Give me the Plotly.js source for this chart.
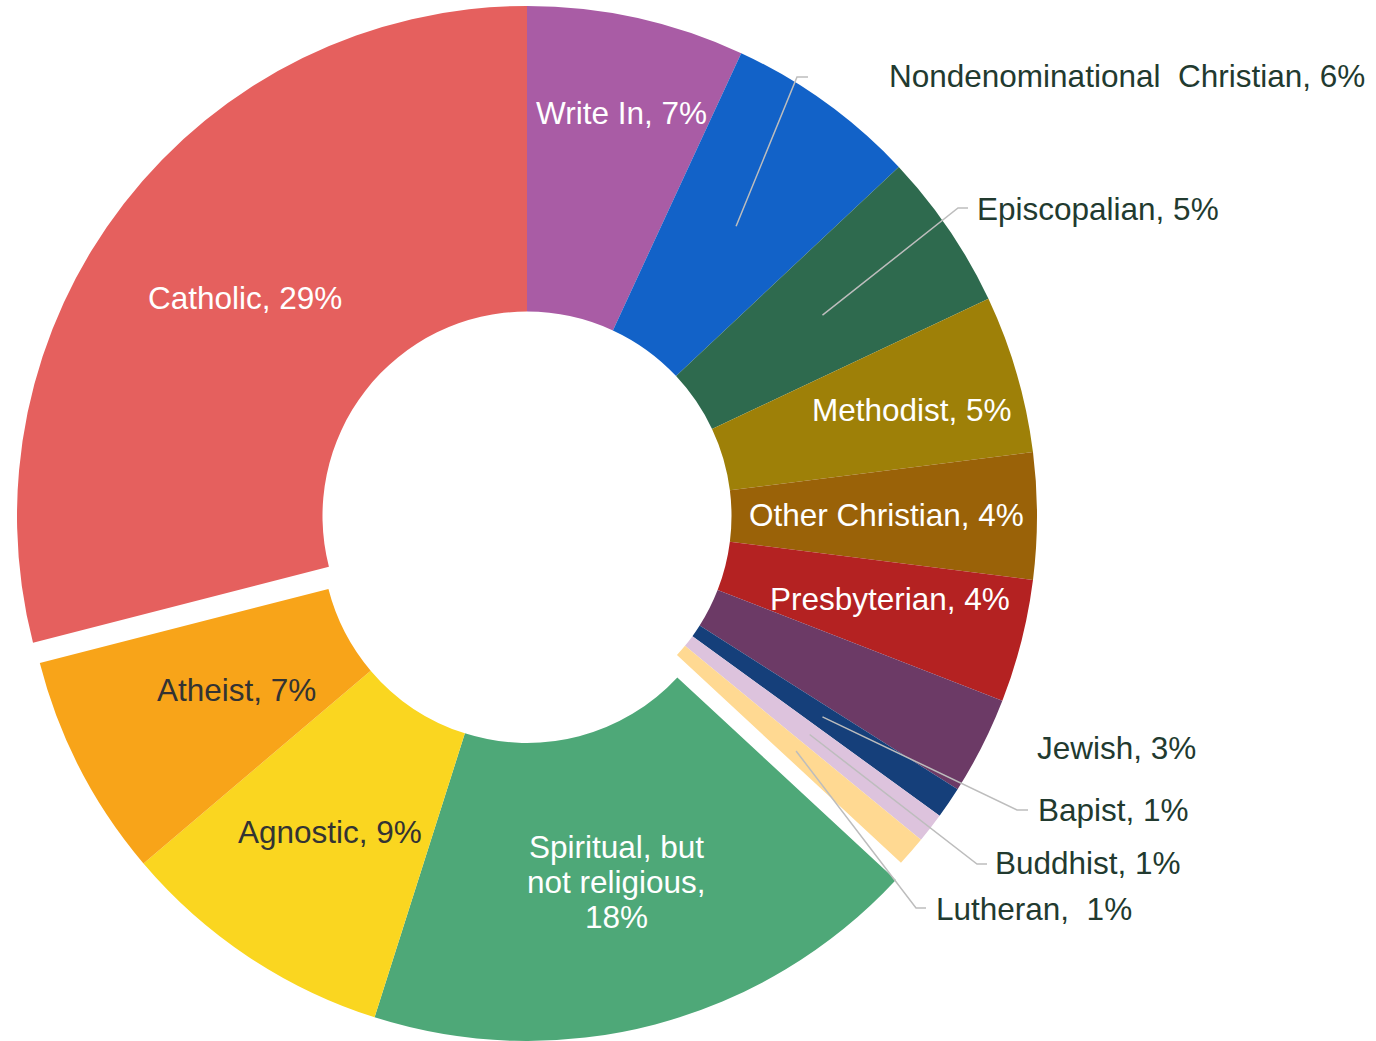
<!DOCTYPE html>
<html>
<head>
<meta charset="utf-8">
<script src="https://cdn.plot.ly/plotly-3.0.1.min.js"></script>
<style>
  html, body { margin: 0; padding: 0; background: #ffffff; overflow: hidden; }
  #chart { width: 1376px; height: 1041px; }
</style>
</head>
<body>
<div id="chart"></div>
<script>
// ---------------- data ----------------
const categories = ["Write In", "Nondenominational Christian", "Episcopalian", "Methodist",
  "Other Christian", "Presbyterian", "Jewish", "Bapist", "Buddhist", "Lutheran",
  "Spiritual, but not religious", "Agnostic", "Atheist", "Catholic"];
const shares = [6.9, 6.1, 5.0, 5.0, 4.0, 3.9, 3.1, 1.0, 0.95, 0.95, 18.0, 8.9, 7.2, 29.0];
const percentLabels = ["7%", "6%", "5%", "5%", "4%", "4%", "3%", "1%", "1%", "1%", "18%", "9%", "7%", "29%"];
const labelTexts = ["Write In, 7%", "Nondenominational\u00a0 Christian, 6%", "Episcopalian, 5%",
  "Methodist, 5%", "Other Christian, 4%", "Presbyterian, 4%", "Jewish, 3%", "Bapist, 1%",
  "Buddhist, 1%", "Lutheran,\u00a0 1%", "Spiritual, but<br>not religious,<br>18%",
  "Agnostic, 9%", "Atheist, 7%", "Catholic, 29%"];
const sliceColors = ["#A95CA5", "#1262C8", "#2E6A4E", "#9E8008", "#9A6208", "#B42222",
  "#6C3A66", "#153F7A", "#DDC3DD", "#FFD992", "#4EA878", "#FAD620", "#F8A419", "#E5605E"];
const explodedGroup = ["Spiritual, but not religious", "Agnostic", "Atheist"];
const leaderCategories = ["Nondenominational Christian", "Episcopalian", "Bapist", "Buddhist", "Lutheran"];

// ---------------- layout / styling ----------------
const W = 1376, H = 1041;
const CX = 527, CY = 516, R = 510, HOLE_R = 204.5;
const GROUP_DY = 22, R2 = 503, HOLE_R2 = 205;
const FONT = "Liberation Sans, Arial, Helvetica, sans-serif";
const FS = 31.5;
const LINE_GAP = 35;
const OUT_COLOR = "#223A2F";
const LIGHT_TEXT = "#FFFFFF";
const DARK_TEXT = "#333333";
const LEADER_COLOR = "#BDBDBD";
const TRANSPARENT = "rgba(0,0,0,0)";

const px = x => x / W;
const py = y => 1 - y / H;

// label placement (pixel positions, anchors)
const labelPlacement = {
  "Write In": {x: 621, y: 113, xa: "center", c: LIGHT_TEXT},
  "Nondenominational Christian": {x: 887, y: 76, xa: "left", c: OUT_COLOR},
  "Episcopalian": {x: 975, y: 209, xa: "left", c: OUT_COLOR},
  "Methodist": {x: 912, y: 410, xa: "center", c: LIGHT_TEXT},
  "Other Christian": {x: 886, y: 515, xa: "center", c: LIGHT_TEXT},
  "Presbyterian": {x: 890, y: 599, xa: "center", c: LIGHT_TEXT},
  "Jewish": {x: 1035, y: 748, xa: "left", c: OUT_COLOR},
  "Bapist": {x: 1036, y: 810, xa: "left", c: OUT_COLOR},
  "Buddhist": {x: 993, y: 863, xa: "left", c: OUT_COLOR},
  "Lutheran": {x: 934, y: 909, xa: "left", c: OUT_COLOR},
  "Spiritual, but not religious": {x: 616, y: 882, xa: "center", c: LIGHT_TEXT},
  "Agnostic": {x: 330, y: 832, xa: "center", c: DARK_TEXT},
  "Atheist": {x: 236, y: 690, xa: "center", c: DARK_TEXT},
  "Catholic": {x: 245, y: 298, xa: "center", c: LIGHT_TEXT}
};
// leader elbows / ends (pixel)
const leaderPath = {
  "Nondenominational Christian": [[797, 77], [808, 77]],
  "Episcopalian": [[958, 208], [968, 208]],
  "Bapist": [[1017, 810], [1028, 810]],
  "Buddhist": [[977, 864], [987, 864]],
  "Lutheran": [[916, 908], [926, 908]]
};

// ---------------- traces ----------------
const baseColors = categories.map((c, i) => explodedGroup.includes(c) ? TRANSPARENT : sliceColors[i]);
const groupColors = categories.map((c, i) => explodedGroup.includes(c) ? sliceColors[i] : TRANSPARENT);

const common = {
  type: "pie",
  labels: categories,
  values: shares,
  sort: false,
  direction: "clockwise",
  rotation: 0,
  textinfo: "none",
  hoverinfo: "label+percent",
  showlegend: false
};

const traceMain = Object.assign({}, common, {
  name: "main",
  hole: HOLE_R / R,
  marker: {colors: baseColors, line: {width: 0}},
  domain: {x: [px(CX - R), px(CX + R)], y: [py(CY + R), py(CY - R)]}
});
const traceGroup = Object.assign({}, common, {
  name: "group",
  hole: HOLE_R2 / R2,
  marker: {colors: groupColors, line: {width: 0}},
  domain: {x: [px(CX - R2), px(CX + R2)], y: [Math.max(0, py(CY + GROUP_DY + R2)), py(CY + GROUP_DY - R2)]}
});

// ---------------- annotations ----------------
const annotations = [];
categories.forEach((c, i) => {
  const p = labelPlacement[c];
  const lines = labelTexts[i].split("<br>");
  const y0 = p.y - (lines.length - 1) * LINE_GAP / 2;
  lines.forEach((line, k) => {
    annotations.push({
      xref: "paper", yref: "paper",
      x: px(p.x), y: py(y0 + k * LINE_GAP),
      xanchor: p.xa, yanchor: "middle",
      text: line,
      showarrow: false,
      align: "center",
      font: {family: FONT, size: FS, color: p.c}
    });
  });
});

// leader lines start at slice mid-angle, mid-ring radius
const total = shares.reduce((a, b) => a + b, 0);
const midAngle = {};
let cum = 0;
categories.forEach((c, i) => {
  midAngle[c] = (cum + shares[i] / 2) / total * 2 * Math.PI;
  cum += shares[i];
});
const midR = (R + HOLE_R) / 2;
const shapes = leaderCategories.map(c => {
  const a = midAngle[c];
  const sx = CX + midR * Math.sin(a), sy = CY - midR * Math.cos(a);
  const pts = [[sx, sy]].concat(leaderPath[c]);
  const d = pts.map((p, k) => (k ? "L" : "M") + px(p[0]) + "," + py(p[1])).join(" ");
  return {type: "path", xref: "paper", yref: "paper", path: d,
          line: {color: LEADER_COLOR, width: 1.5}};
});

const layout = {
  width: W, height: H,
  margin: {l: 0, r: 0, t: 0, b: 0, pad: 0},
  paper_bgcolor: "#ffffff",
  plot_bgcolor: "#ffffff",
  showlegend: false,
  font: {family: FONT},
  annotations: annotations,
  shapes: shapes
};

Plotly.newPlot("chart", [traceMain, traceGroup], layout, {displayModeBar: false, staticPlot: true});
</script>
</body>
</html>
